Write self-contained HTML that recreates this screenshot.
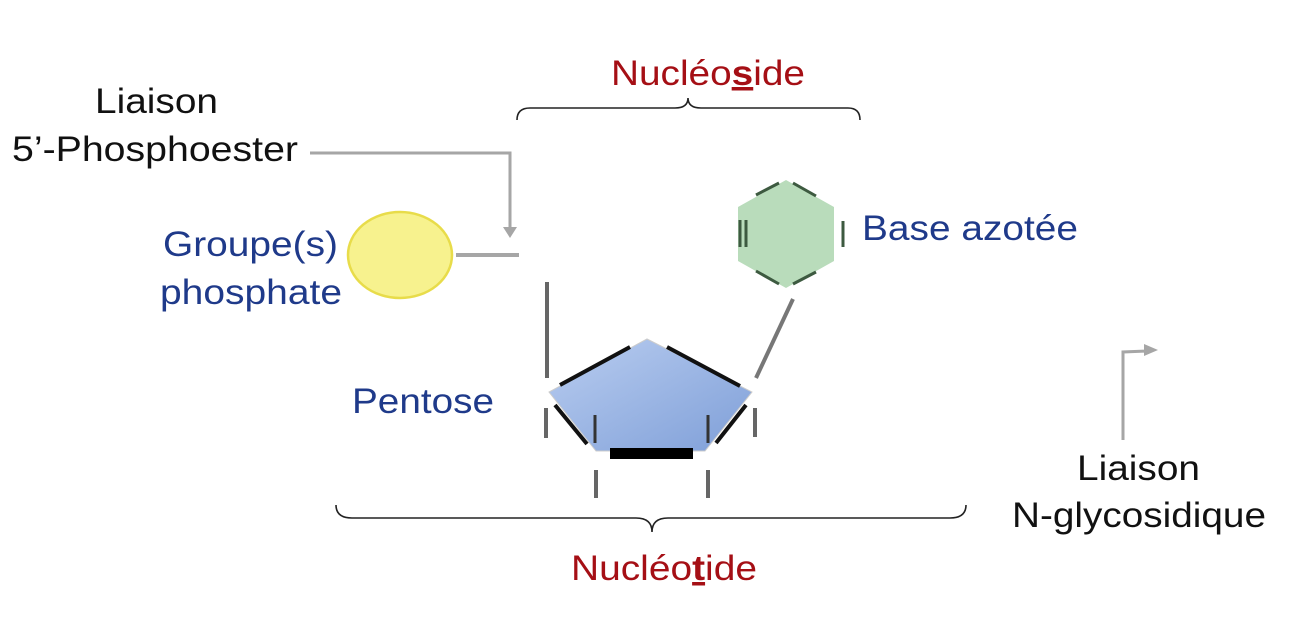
<!DOCTYPE html>
<html><head><meta charset="utf-8"><style>
body{margin:0;background:#fff;width:1292px;height:614px;overflow:hidden}
text{font-family:"Liberation Sans",sans-serif}
</style></head><body>
<svg width="1292" height="614" viewBox="0 0 1292 614" xmlns="http://www.w3.org/2000/svg">
<defs>
<linearGradient id="pg" x1="0" y1="0" x2="1" y2="1"><stop offset="0" stop-color="#b9cdf0"/><stop offset="1" stop-color="#7f9fd8"/></linearGradient>
</defs>
<g font-size="35" lengthAdjust="spacingAndGlyphs">
<text x="611" y="85" fill="#a50f15" textLength="194" lengthAdjust="spacingAndGlyphs">Nucléo<tspan font-weight="bold" text-decoration="underline">s</tspan>ide</text>
<text x="571" y="580" fill="#a50f15" textLength="186" lengthAdjust="spacingAndGlyphs">Nucléo<tspan font-weight="bold" text-decoration="underline">t</tspan>ide</text>
<text x="95" y="113" fill="#111" textLength="123" lengthAdjust="spacingAndGlyphs">Liaison</text>
<text x="12" y="161" fill="#111" textLength="286" lengthAdjust="spacingAndGlyphs">5’-Phosphoester</text>
<text x="163" y="256" fill="#1f3a8a" textLength="175" lengthAdjust="spacingAndGlyphs">Groupe(s)</text>
<text x="160" y="304" fill="#1f3a8a" textLength="182" lengthAdjust="spacingAndGlyphs">phosphate</text>
<text x="862" y="240" fill="#1f3a8a" textLength="216" lengthAdjust="spacingAndGlyphs">Base azotée</text>
<text x="352" y="413" fill="#1f3a8a" textLength="142" lengthAdjust="spacingAndGlyphs">Pentose</text>
<text x="1077" y="480" fill="#111" textLength="123" lengthAdjust="spacingAndGlyphs">Liaison</text>
<text x="1012" y="527" fill="#111" textLength="254" lengthAdjust="spacingAndGlyphs">N-glycosidique</text>
</g>
<path d="M517,120 Q517,108 530,108 L675,108 Q688,108 688,98 Q688,108 701,108 L848,108 Q860,108 860,120" fill="none" stroke="#222" stroke-width="1.6"/>
<path d="M336,505 Q336,518 352,518 L636,518 Q652,518 652,532 Q652,518 668,518 L950,518 Q966,518 966,505" fill="none" stroke="#222" stroke-width="1.6"/>
<path d="M310,153 L510,153 L510,228" fill="none" stroke="#a6a6a6" stroke-width="3"/>
<polygon points="503,227 517,227 510,238" fill="#a6a6a6"/>
<line x1="456" y1="255" x2="519" y2="255" stroke="#a6a6a6" stroke-width="4"/>
<path d="M1123,440 L1123,352 L1148,351" fill="none" stroke="#a6a6a6" stroke-width="3"/>
<polygon points="1144,344 1158,350 1144,356" fill="#a6a6a6"/>
<ellipse cx="400" cy="255" rx="52" ry="43" fill="#f7f28e" stroke="#e8dc4a" stroke-width="2.5"/>
<polygon points="786,180 834,207 834,261 786,288 738,261 738,207" fill="#b9dcbb"/>
<g stroke="#3d5a40" stroke-width="3">
<line x1="756" y1="195" x2="779" y2="183"/><line x1="793" y1="183" x2="816" y2="196"/>
<line x1="843" y1="221" x2="843" y2="247"/><line x1="816" y1="272" x2="793" y2="284"/>
<line x1="779" y1="284" x2="756" y2="271"/><line x1="740" y1="220" x2="740" y2="247"/><line x1="746" y1="220" x2="746" y2="247"/>
</g>
<line x1="793" y1="299" x2="756" y2="378" stroke="#777" stroke-width="4"/>
<polygon points="647,339 549,392 596,451 705,451 752,392" fill="url(#pg)" stroke="#ccc" stroke-width="1"/>
<g stroke="#111" stroke-width="4">
<line x1="560" y1="385" x2="630" y2="347"/><line x1="667" y1="347" x2="740" y2="386"/>
<line x1="555" y1="405" x2="587" y2="444"/><line x1="716" y1="443" x2="746" y2="405"/>
</g>
<rect x="610" y="448" width="83" height="11" fill="#000"/>
<g stroke="#333" stroke-width="3">
<line x1="595" y1="415" x2="595" y2="443"/><line x1="708" y1="415" x2="708" y2="443"/>
</g>
<g stroke="#666" stroke-width="4">
<line x1="547" y1="282" x2="547" y2="378"/>
<line x1="546" y1="408" x2="546" y2="438"/><line x1="755" y1="408" x2="755" y2="437"/>
<line x1="596" y1="470" x2="596" y2="498"/><line x1="708" y1="470" x2="708" y2="498"/>
</g>
</svg>
</body></html>
